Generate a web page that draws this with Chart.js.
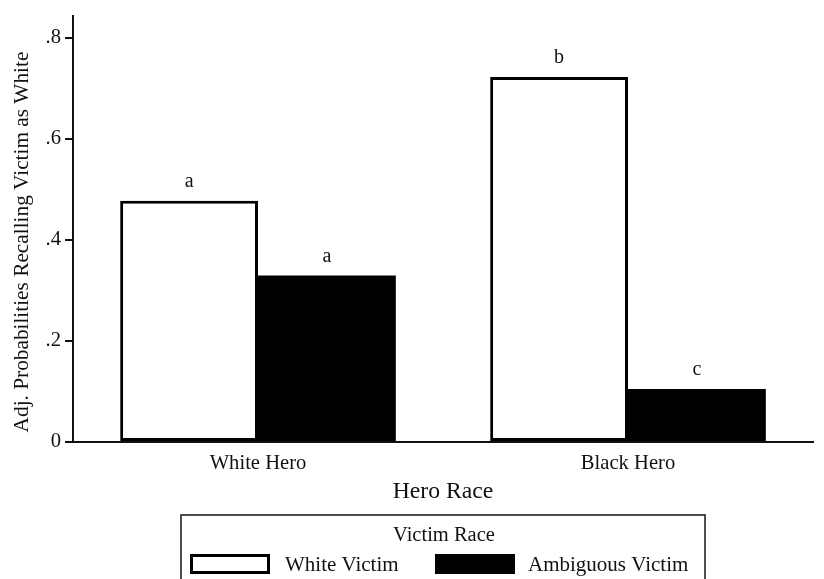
<!DOCTYPE html>
<html>
<head>
<meta charset="utf-8">
<script src="https://cdn.jsdelivr.net/npm/chart.js@4.4.1/dist/chart.umd.min.js"></script>
<style>
  html, body { margin: 0; padding: 0; background: #fff; }
  #wrap { width: 824px; height: 579px; }
</style>
</head>
<body>
<div id="wrap"><canvas id="c" width="824" height="579"></canvas></div>
<script>
const categories = ['White Hero', 'Black Hero'];
const whiteVictim = [0.478, 0.723];
const ambiguousVictim = [0.330, 0.105];
const whiteLetters = ['a', 'b'];
const ambiguousLetters = ['a', 'c'];
const yTickValues = [0, 0.2, 0.4, 0.6, 0.8];
const yTickLabels = ['0', '.2', '.4', '.6', '.8'];
const seriesNames = ['White Victim', 'Ambiguous Victim'];
const xAxisTitle = 'Hero Race';
const yAxisTitle = 'Adj. Probabilities Recalling Victim as White';
const legendTitle = 'Victim Race';

const FONT = "'Liberation Serif', 'Times New Roman', serif";

const letterPlugin = {
  id: 'letters',
  afterDatasetsDraw(chart) {
    const ctx = chart.ctx;
    const sets = [whiteLetters, ambiguousLetters];
    ctx.save();
    ctx.font = '20px ' + FONT;
    ctx.fillStyle = '#111';
    ctx.textAlign = 'center';
    ctx.textBaseline = 'middle';
    chart.data.datasets.forEach((ds, di) => {
      const meta = chart.getDatasetMeta(di);
      meta.data.forEach((bar, i) => {
        ctx.fillText(sets[di][i], bar.x, bar.y - 19);
      });
    });
    ctx.restore();
  }
};

const yTitlePlugin = {
  id: 'yTitle',
  afterDraw(chart) {
    const ctx = chart.ctx;
    ctx.save();
    ctx.translate(22, 242);
    ctx.rotate(-Math.PI / 2);
    ctx.font = '21.3px ' + FONT;
    ctx.fillStyle = '#111';
    ctx.textAlign = 'center';
    ctx.textBaseline = 'middle';
    ctx.fillText(yAxisTitle, 0, 0);
    ctx.restore();
  }
};

const legendPlugin = {
  id: 'customLegend',
  afterDraw(chart) {
    const ctx = chart.ctx;
    ctx.save();
    ctx.strokeStyle = '#222';
    ctx.lineWidth = 1.6;
    ctx.strokeRect(181, 515, 524, 80);
    ctx.fillStyle = '#111';
    ctx.font = '20.5px ' + FONT;
    ctx.textAlign = 'center';
    ctx.textBaseline = 'middle';
    ctx.fillText(legendTitle, 444, 536);
    const items = [
      { x: 190, tx: 285 },
      { x: 435, tx: 528 }
    ];
    ctx.font = '21px ' + FONT;
    chart.data.datasets.forEach((ds, i) => {
      const it = items[i];
      ctx.fillStyle = ds.backgroundColor;
      ctx.fillRect(it.x, 554, 80, 20);
      ctx.strokeStyle = '#000';
      ctx.lineWidth = 3;
      ctx.strokeRect(it.x + 1.5, 555.5, 77, 17);
      ctx.fillStyle = '#111';
      ctx.textAlign = 'left';
      ctx.fillText(ds.label, it.tx, 565);
    });
    ctx.restore();
  }
};

const bgPlugin = {
  id: 'bg',
  beforeDraw(chart) {
    const ctx = chart.ctx;
    ctx.save();
    ctx.fillStyle = '#fff';
    ctx.fillRect(0, 0, chart.width, chart.height);
    ctx.restore();
  }
};

new Chart(document.getElementById('c'), {
  type: 'bar',
  data: {
    labels: categories,
    datasets: [
      {
        label: seriesNames[0],
        data: whiteVictim,
        backgroundColor: '#ffffff',
        borderColor: '#000000',
        borderWidth: 3,
        borderSkipped: false
      },
      {
        label: seriesNames[1],
        data: ambiguousVictim,
        backgroundColor: '#000000',
        borderColor: '#000000',
        borderWidth: 0,
        borderSkipped: false
      }
    ]
  },
  options: {
    responsive: false,
    animation: false,
    events: [],
    layout: { padding: { top: 15, right: 11, bottom: 75, left: 0 } },
    datasets: { bar: { barPercentage: 1, categoryPercentage: 0.745 } },
    plugins: {
      legend: { display: false },
      tooltip: { enabled: false },
      title: { display: false }
    },
    scales: {
      x: {
        grid: { display: true, drawOnChartArea: false, drawTicks: false, color: '#000' },
        border: { display: true, color: '#111', width: 2 },
        ticks: { color: '#111', font: { family: FONT, size: 20.6 }, padding: 9 },
        title: {
          display: true, text: xAxisTitle, color: '#111',
          font: { family: FONT, size: 23.7, lineHeight: 1 },
          padding: { top: 0, bottom: 0 }
        },
        afterFit(scale) { scale.height = 62; }
      },
      y: {
        min: 0,
        max: 0.843,
        grid: { display: true, drawOnChartArea: false, drawTicks: true, tickLength: 8, color: '#111', lineWidth: 2 },
        border: { display: true, color: '#111', width: 2 },
        ticks: {
          color: '#111',
          font: { family: FONT, size: 20.6 },
          padding: 4,
          callback(value) {
            const idx = yTickValues.findIndex(v => Math.abs(v - value) < 1e-6);
            return idx >= 0 ? yTickLabels[idx] : '';
          }
        },
        afterBuildTicks(scale) {
          scale.ticks = yTickValues.map(v => ({ value: v }));
        },
        title: { display: false },
        afterFit(scale) { scale.width = 73; }
      }
    }
  },
  plugins: [bgPlugin, letterPlugin, yTitlePlugin, legendPlugin]
});
</script>
</body>
</html>
